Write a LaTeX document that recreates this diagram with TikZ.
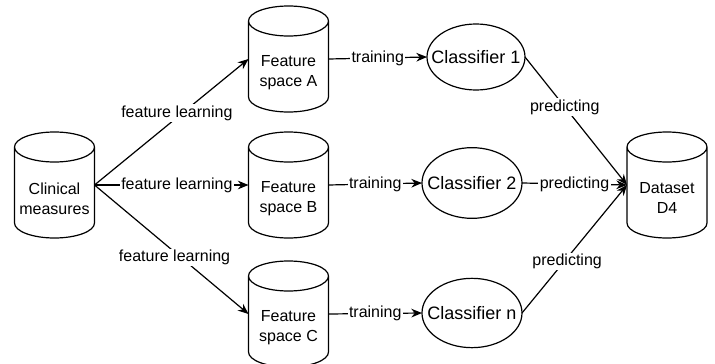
\documentclass[tikz,border=0pt]{standalone}
\usepackage{fontspec}
\setmainfont{Liberation Sans}
\usetikzlibrary{arrows.meta,shapes.geometric}
\tikzset{
  cylbox/.style={draw=none, minimum width=60pt, minimum height=79.5pt, inner sep=0pt, outer sep=0pt},
  cylline/.style={line width=0.9pt},
  cyltxt/.style={font=\fontsize{12}{15}\selectfont, align=center, inner sep=0pt},
  cls/.style={ellipse, draw, line width=0.9pt, inner sep=0pt, outer sep=0pt, font=\fontsize{13.5}{16}\selectfont},
  conn/.style={line width=0.9pt, -{Stealth[length=8pt,width=6.5pt]}},
  elbl/.style={fill=white, inner sep=1pt, font=\fontsize{12}{14}\selectfont},
}
\newcommand\cylshape[4]{%
  \node[cylbox] (#1) at (#2,#3) {};
  \draw[cylline] ([yshift=-11.25pt]#1.north west) -- ([yshift=11.25pt]#1.south west)
    arc[start angle=180,end angle=360,x radius=30pt,y radius=11.25pt]
    -- ([yshift=-11.25pt]#1.north east)
    arc[start angle=0,end angle=360,x radius=30pt,y radius=11.25pt];
  \node[cyltxt] (#1t) at ([yshift=-10pt]#1.center) {#4};
}
\begin{document}
\begin{tikzpicture}[x=0.75pt,y=-0.75pt]
\useasboundingbox (0,0) rectangle (715,364);
\cylshape{cm}{54.5}{185}{Clinical\\measures}
\cylshape{fa}{288.5}{59}{Feature\\space A}
\cylshape{fb}{288.5}{185}{Feature\\space B}
\cylshape{fc}{288.5}{314}{Feature\\space C}
\cylshape{d4}{667}{185}{Dataset\\D4}
\node[cls, minimum width=73.5pt, minimum height=49.5pt] (c1) at (476,57) {\makebox[0pt]{Classifier 1}};
\node[cls, minimum width=75pt, minimum height=53pt] (c2) at (472,183) {\makebox[0pt]{Classifier 2}};
\node[cls, minimum width=75pt, minimum height=52pt] (cn) at (472,313) {\makebox[0pt]{Classifier n}};
\draw[conn] (cm.east) -- node[elbl, pos=0.535, yshift=3.5pt] {feature learning} (fa.west);
\draw[conn] (cm.east) -- node[elbl, pos=0.535] {feature learning} (fb.west);
\draw[conn] (cm.east) -- node[elbl, pos=0.52, yshift=-4pt] {feature learning} (fc.west);
\draw[conn] (fa.east) -- node[elbl] {training} (c1.west);
\draw[conn] (fb.east) -- node[elbl] {training} (c2.west);
\draw[conn] (fc.east) -- node[elbl] {training} (cn.west);
\draw[conn] (c1.east) -- node[elbl, pos=0.39] {predicting} (d4.west);
\draw[conn] (c2.east) -- node[elbl] {predicting} (d4.west);
\draw[conn] (cn.east) -- node[elbl, pos=0.43, yshift=-2.5pt] {predicting} (d4.west);
\end{tikzpicture}
\end{document}
